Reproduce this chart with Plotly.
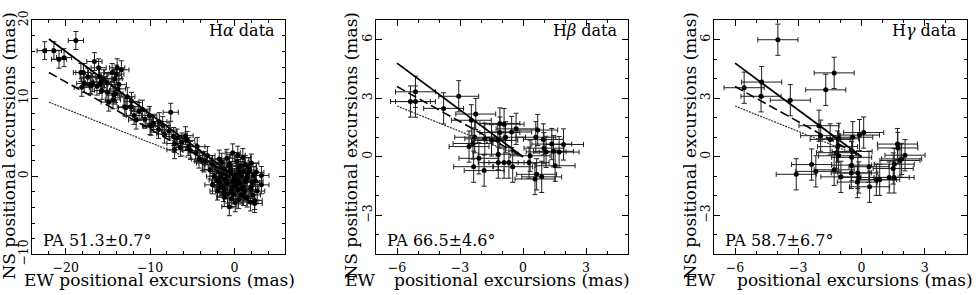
import plotly.graph_objects as go

# ---------------- data (mas) ----------------
# H-alpha panel
HA_X = [-22.5, -21.4, -20.8, -20.2, -18.8, -18.2, -17.9, -17.8, -17.4, -16.6, -16.1, -17.0,
        -15.9, -15.5, -15.1, -14.9, -14.5, -14.2, -14.1, -13.9, -13.4, -13.7, -13.0, -12.7,
        -12.3, -11.9, -11.65, -10.9, -10.1, -10.0, -8.9, -7.75, -7.55, -7.2, -7.1, -7.1,
        -5.8, -5.6, -6.4, -5.4, -4.4, -3.8, -3.2, -16.0, -15.7, -16.8, -13.8, -14.4, -12.2,
        -11.3, -10.6, -9.6, -9.0, -8.5, -8.3, -6.8, -6.2, -5.2, -4.6, -4.2, -3.5, -18.1,
        -15.1, -14.3, -12.85, -9.9, -17.1, -16.3, -14.0, -15.8,
        # cluster near origin
        -0.2, 1.0, -1.8, 0.4, -0.9,
        -3.6, -2.6, -1.5, -0.6, 0.3, 1.3, 2.0, -2.2,
        -2.9, -1.9, -1.2, -0.4, 0.5, 1.1, 1.8, 2.6, -0.9, 0.2,
        -2.4, -1.6, -0.7, 0.0, 0.8, 1.5, 2.3, 3.2, -1.1, 0.4,
        -2.6, -1.8, -0.9, -0.2, 0.6, 1.3, 2.1, 3.2, -1.4, 0.1, 1.0,
        -2.0, -1.2, -0.4, 0.4, 1.2, 1.9, 2.7, -0.8, 0.8, 2.2,
        -1.2, -0.3, 0.5, 1.5, 2.4, 1.9, -0.6, 0.1, 2.4,
        -1.5, -0.5, 0.6, 1.6, -2.1, -1.0, 0.2, 1.4, 2.5, -0.3, 0.9, -1.7, 0.7, 1.7,
        -0.1, -1.3, 1.1, 2.0, -0.6, 0.3]
HA_Y = [16.1, 16.1, 15.0, 15.2, 17.4, 13.3, 13.3, 11.9, 12.7, 14.7, 13.9, 11.6,
        11.75, 12.5, 12.0, 9.5, 13.3, 12.5, 10.6, 13.9, 13.65, 11.75, 8.9, 10.2,
        8.9, 7.8, 7.2, 8.6, 7.8, 6.5, 7.0, 5.8, 8.2, 5.1, 4.2, 3.4,
        5.2, 4.6, 3.7, 3.8, 3.8, 1.9, 2.65, 12.8, 11.0, 12.0, 11.2, 9.8, 9.6,
        8.3, 7.3, 6.8, 6.0, 6.5, 5.4, 4.9, 4.4, 3.3, 3.0, 2.2, 2.0, 11.4,
        10.8, 10.4, 8.8, 6.4, 11.75, 11.55, 13.1, 12.1,
        3.0, 2.4, 2.2, 2.7, 2.3,
        1.7, 1.5, 1.8, 1.6, 1.9, 1.5, 1.7, 1.1,
        0.8, 0.6, 0.9, 0.7, 1.0, 0.6, 0.8, 0.5, 0.3, 0.2,
        0.0, -0.1, 0.1, -0.2, 0.0, -0.1, 0.1, 0.1, -0.4, -0.5,
        -1.1, -0.8, -0.9, -0.7, -0.9, -0.7, -0.8, -1.1, -1.3, -1.2, -1.4,
        -1.9, -1.7, -1.9, -1.7, -2.0, -1.7, -1.9, -2.3, -2.4, -2.4,
        -2.7, -2.9, -3.0, -2.8, -3.1, -3.3, -3.9, -3.4, -3.5,
        0.4, 0.3, 0.5, 0.4, -0.5, -0.6, -0.8, -0.4, -0.6, -1.5, -1.6, -1.4, 1.3, 1.2,
        -2.3, -2.1, -2.6, -1.3, 1.3, -1.0]
HA_XERR = 0.9
HA_YERR = 1.15

# H-beta panel
HB_X = [-5.36, -5.12, -5.12, -3.78, -3.06, -2.25, -2.46, -2.3, -2.38, -2.57, -2.35, -1.85,
        -2.1, -1.82, -1.5, -1.1, -0.9, -1.1, -1.2, -0.83, -0.54, -0.33, -1.18, -1.18,
        -0.9, -0.67, -0.49, 0.29, 0.34, 0.65, 0.57, 0.89, 0.61, 0.7, 0.97, 1.0, 1.1,
        1.37, 1.45, 1.53, 1.72, 1.93]
HB_Y = [2.83, 2.83, 3.33, 2.48, 3.1, 2.19, 1.87, 1.0, 0.68, 0.52, -0.51, -0.71,
        -0.08, 0.92, 0.84, 1.71, 1.67, 1.24, 0.84, 1.0, 1.27, 1.43, 0.13, -0.3,
        -0.3, -0.3, -0.51, -0.3, 0.05, -0.9, -1.14, -1.03, 1.0, 1.37, 0.89, 0.44, 0.25,
        0.65, 0.28, -0.46, 0.24, 0.63]
HB_XERR = 0.95
HB_YERR = 0.8

# H-gamma panel
HG_X = [-3.97, -1.30, -1.70, -5.57, -4.74, -4.77, -3.38, -2.02, -1.94, -1.49, -1.09, -1.14,
        -1.19, -0.42, -0.10, 0.10, -0.45, -0.47, -0.47, -0.49, -1.09, -1.30, -0.98, -0.18,
        -0.13, -0.20, 0.35, 0.38, 0.70, 0.86, -3.10, -2.37, -2.17, 1.31, 1.54, 1.55,
        1.82, 1.90, 2.06, 1.70, 1.72, 1.50]
HG_Y = [6.0, 4.3, 3.43, 3.54, 3.83, 3.10, 2.90, 1.59, 1.08, 0.89, 0.92, 0.52,
        0.21, 1.0, 1.11, 1.24, 0.27, -0.03, -0.43, -0.83, 0.05, -0.67, -1.03, -0.83,
        -1.06, -1.3, -0.51, -1.54, -1.18, -1.18, -0.9, -0.40, -0.75, -1.06, -1.06, -0.38,
        -0.19, -0.11, 0.08, 0.65, 0.45, -0.6]
HG_XERR = 0.95
HG_YERR = 0.8

# position-angle fit lines: start x and NS value at that x (they end at the origin)
LINE_X0 = [-22, -6, -6]            # per panel
LINE_SOLID_Y0 = [17.6, 4.8, 4.8]   # PA 51.3 (H-alpha)
LINE_DASH_Y0 = [13.3, 3.6, 3.6]    # PA 58.7 (H-gamma)
LINE_DOT_Y0 = [9.5, 2.6, 2.6]      # PA 66.5 (H-beta)

PANEL_NAMES = ["H<i>α</i> data", "H<i>β</i> data", "H<i>γ</i> data"]
PA_TEXT = ["PA 51.3±0.7°", "PA 66.5±4.6°", "PA 58.7±6.7°"]
X_TITLE = "EW positional excursions (mas)"
Y_TITLE = "NS positional excursions (mas)"

X_RANGES = [[-24, 6], [-7, 5], [-7, 5]]
Y_RANGES = [[-10, 20], [-5, 7], [-5, 7]]
MAJOR = [10, 3, 3]
MINOR = [2, 1, 1]

# ---------------- figure ----------------
W, H = 976, 295          # reference grid used to express positions as fractions
FONT = "DejaVu Serif"
X_DOM_PX = [(32, 285), (376, 628), (714, 967)]
Y_DOM = [1 - 263 / H, 1 - 11 / H]
ERR_COL = "#1e1e1e"

fig = go.Figure()

datasets = [(HA_X, HA_Y, HA_XERR, HA_YERR), (HB_X, HB_Y, HB_XERR, HB_YERR),
            (HG_X, HG_Y, HG_XERR, HG_YERR)]

for i, (xs, ys, xe, ye) in enumerate(datasets):
    xa = "x" if i == 0 else f"x{i+1}"
    ya = "y" if i == 0 else f"y{i+1}"
    fig.add_trace(go.Scatter(
        x=xs, y=ys, mode="markers", xaxis=xa, yaxis=ya,
        marker=dict(color="black", size=5),
        error_x=dict(type="constant", value=xe, color=ERR_COL, thickness=1, width=2.5),
        error_y=dict(type="constant", value=ye, color=ERR_COL, thickness=1, width=2.5),
        showlegend=False, hoverinfo="skip"))
    x0 = LINE_X0[i]
    fig.add_trace(go.Scatter(x=[x0, 0], y=[LINE_DOT_Y0[i], 0], mode="lines", xaxis=xa, yaxis=ya,
                             line=dict(color="#333", width=1.2, dash="2px,1px"), showlegend=False))
    fig.add_trace(go.Scatter(x=[x0, 0], y=[LINE_DASH_Y0[i], 0], mode="lines", xaxis=xa, yaxis=ya,
                             line=dict(color="black", width=1.6, dash="9px,4px"), showlegend=False))
    fig.add_trace(go.Scatter(x=[x0, 0], y=[LINE_SOLID_Y0[i], 0], mode="lines", xaxis=xa, yaxis=ya,
                             line=dict(color="black", width=1.8), showlegend=False))

for i in range(3):
    sfx = "" if i == 0 else str(i + 1)
    d0, d1 = X_DOM_PX[i]
    common = dict(showline=True, linecolor="black", linewidth=1, mirror="allticks",
                  ticks="inside", ticklen=6, tickwidth=1, tickcolor="black",
                  showgrid=False, zeroline=False,
                  tickfont=dict(family=FONT, size=12.5, color="black"))
    fig.update_layout(**{
        f"xaxis{sfx}": dict(domain=[d0 / W, d1 / W], range=X_RANGES[i], dtick=MAJOR[i], tick0=0,
                            anchor=f"y{sfx}", ticklabelstandoff=2,
                            minor=dict(dtick=MINOR[i], tick0=0, ticks="inside", ticklen=3,
                                       tickcolor="black", showgrid=False),
                            **common),
        f"yaxis{sfx}": dict(domain=Y_DOM, range=Y_RANGES[i], dtick=MAJOR[i], tick0=0,
                            anchor=f"x{sfx}", tickangle=-90, ticklabelstandoff=-2,
                            minor=dict(dtick=MINOR[i], tick0=0, ticks="inside", ticklen=3,
                                       tickcolor="black", showgrid=False),
                            **common),
    })

ann = []
for i in range(3):
    sfx = "" if i == 0 else str(i + 1)
    ann.append(dict(text=PANEL_NAMES[i], xref=f"x{sfx} domain", yref=f"y{sfx} domain",
                    x=0.97, y=0.955, xanchor="right", yanchor="middle", showarrow=False,
                    font=dict(family=FONT, size=16, color="black")))
    ann.append(dict(text=PA_TEXT[i], xref=f"x{sfx} domain", yref=f"y{sfx} domain",
                    x=0.035, y=0.06, xanchor="left", yanchor="middle", showarrow=False,
                    font=dict(family=FONT, size=16, color="black")))

TFONT = dict(family=FONT, size=17, color="black")
XT = dict(xref="paper", yref="paper", y=0, yanchor="bottom", yshift=-8, showarrow=False, font=TFONT)
ann.append(dict(text=X_TITLE, x=159 / W, xanchor="center", **XT))
first_word, rest = X_TITLE.split(" ", 1)
for left_px, right_px in [(343, 632), (683, 975)]:
    ann.append(dict(text=first_word, x=left_px / W, xanchor="left", **XT))
    ann.append(dict(text=rest, x=right_px / W, xanchor="right", **XT))
for cx in [9, 351, 690]:
    ann.append(dict(text=Y_TITLE, xref="paper", yref="paper",
                    x=cx / W, y=1 - 146 / H, xanchor="center", yanchor="middle",
                    textangle=-90, showarrow=False, font=TFONT))

# no fixed width/height: the figure fills the browser viewport exactly
fig.update_layout(autosize=True, margin=dict(l=0, r=0, t=0, b=0),
                  paper_bgcolor="white", plot_bgcolor="white", annotations=ann)

fig.write_html("out.html", config={"displayModeBar": False, "responsive": True},
               default_width="100vw", default_height="100vh",
               post_script="document.body.style.margin='0';document.body.style.overflow='hidden';"
                           "document.documentElement.style.overflow='hidden';")
